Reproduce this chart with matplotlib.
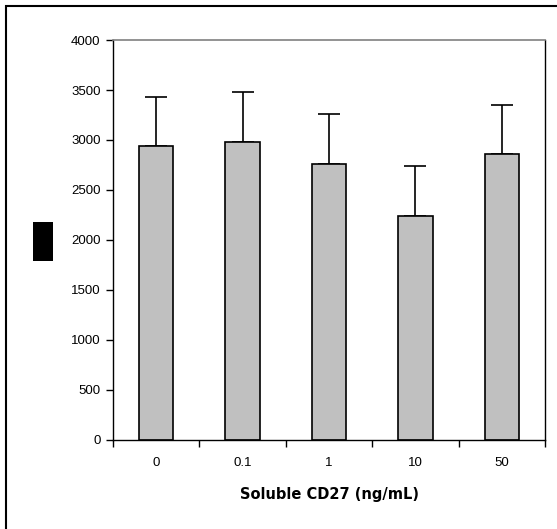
import numpy as np
import matplotlib.pyplot as plt
from matplotlib.patches import Rectangle

categories = ['0', '0.1', '1', '10', '50']
means = [2940, 2980, 2760, 2240, 2860]
err_tops = [3430, 3480, 3260, 2740, 3350]

plt.rcParams['font.family'] = ['Liberation Sans', 'DejaVu Sans']

fig = plt.figure(figsize=(5.57, 5.29), dpi=100)
ax = fig.add_axes([113/557, 89/529, 432/557, 400/529])

x = np.arange(len(categories))
up = np.array(err_tops) - np.array(means)
ax.bar(x, means, width=0.4, color='#c0c0c0', edgecolor='black', linewidth=1.2, zorder=2)
ax.errorbar(x, means, yerr=[np.zeros(len(x)), up], fmt='none', ecolor='black',
            elinewidth=1.2, capsize=8, capthick=1.2, zorder=1)

ax.set_xlim(-0.5, len(x) - 0.5)
ax.set_ylim(0, 4000)
ax.set_yticks(np.arange(0, 4001, 500))
ax.set_xticks(x)
ax.set_xticklabels(categories)
ax.set_xticks(np.arange(-0.5, len(x), 1), minor=True)
ax.tick_params(axis='x', which='major', length=0, pad=12, labelsize=9.5)
ax.tick_params(axis='x', which='minor', length=5, width=1, direction='out')
ax.tick_params(axis='y', length=5, width=1, labelsize=9.5, pad=4)

ax.spines['top'].set_color('#808080')
ax.spines['top'].set_linewidth(1.2)
for s in ['left', 'bottom', 'right']:
    ax.spines[s].set_linewidth(1.0)

ax.set_xlabel('Soluble CD27 (ng/mL)', fontsize=10.5, fontweight='bold', labelpad=13,
              family=['DejaVu Sans'])

# outer frame (only top and left fall inside the image)
fig.patches.append(Rectangle((6/557, -0.05), 1.1, 1 - 6/529 + 0.05, transform=fig.transFigure,
                             fill=False, edgecolor='black', linewidth=1.5))
# redacted y label
fig.patches.append(Rectangle((33/557, 1 - 261/529), 20/557, 39/529, transform=fig.transFigure,
                             facecolor='black', edgecolor='none'))

fig.savefig('out.png', dpi=100)
